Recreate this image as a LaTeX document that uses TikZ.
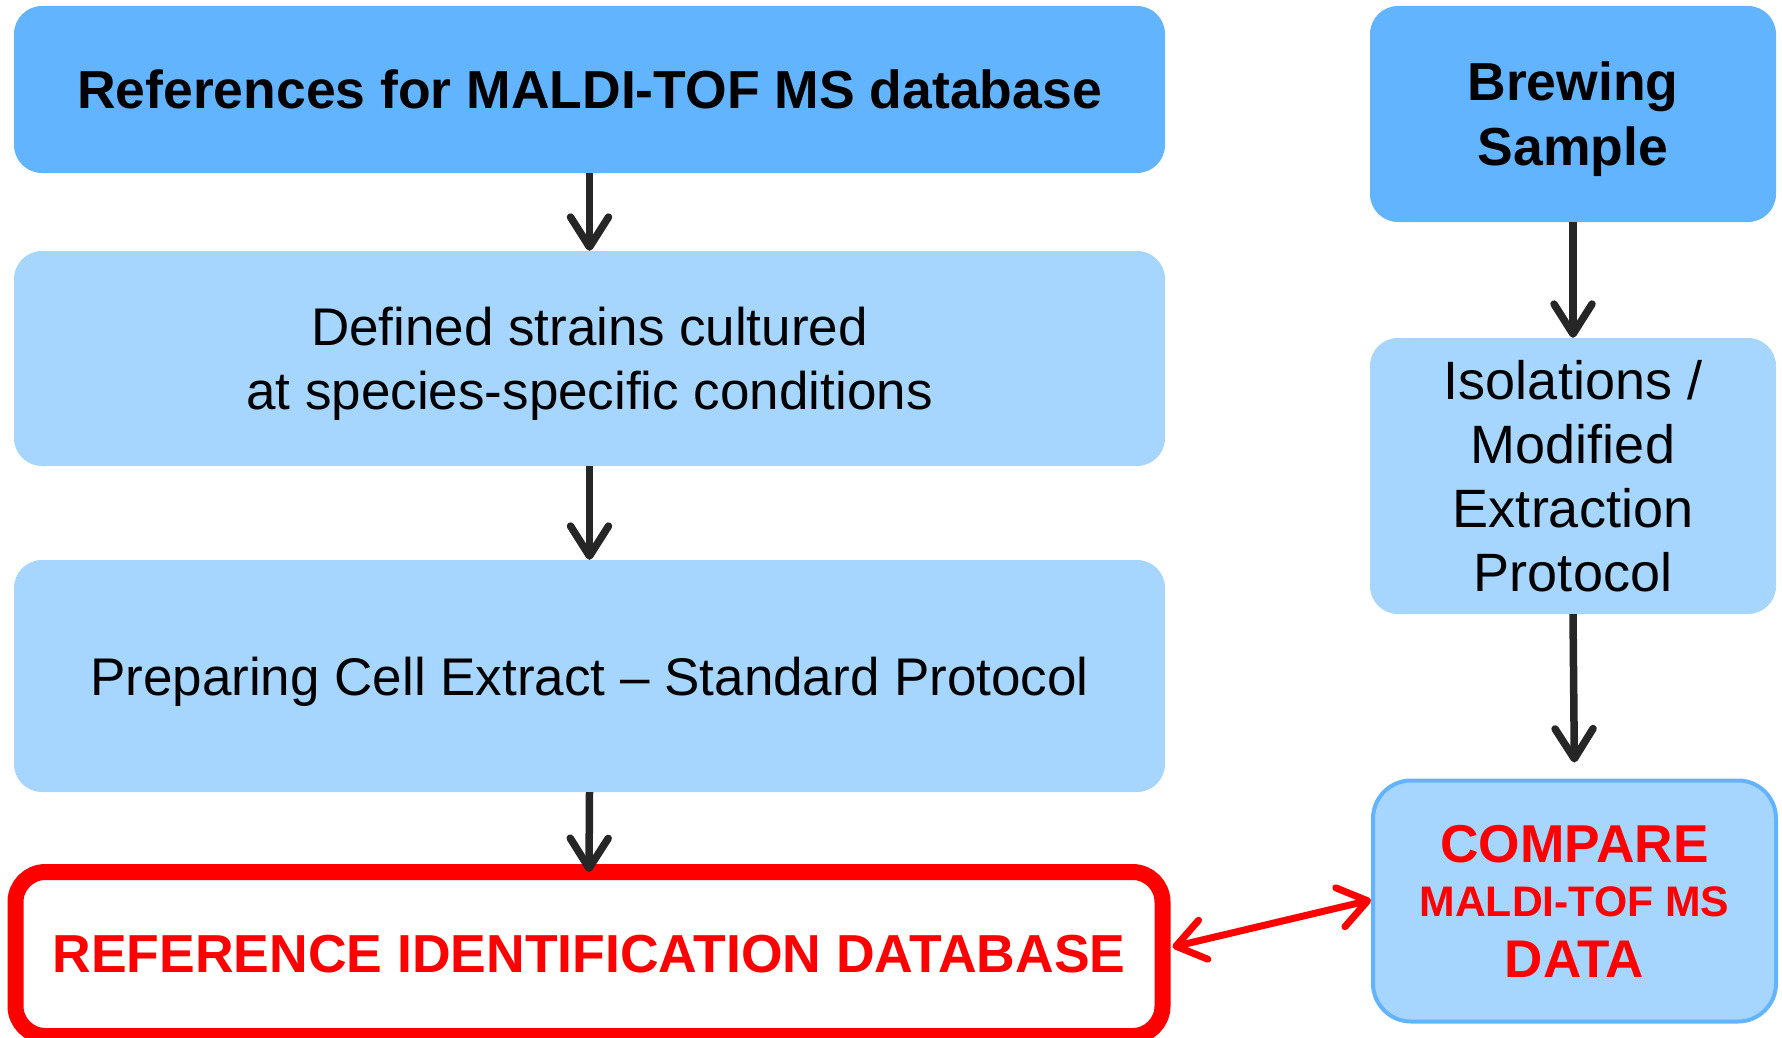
\documentclass[tikz,border=0pt]{standalone}
\usepackage{fontspec}
\setmainfont{Liberation Sans}
\usetikzlibrary{arrows.meta}

\definecolor{darkblue}{RGB}{99,180,255}
\definecolor{lightblue}{RGB}{166,213,253}
\definecolor{arrowgray}{RGB}{38,38,38}
\definecolor{alertred}{RGB}{255,0,0}

\begin{document}
\begin{tikzpicture}[x=1pt,y=-1pt,
    topbox/.style={rounded corners=28pt,fill=darkblue,draw=none,align=center,
        text depth=0pt,font=\fontsize{53.5}{65}\selectfont\bfseries},
    stepbox/.style={rounded corners=28pt,fill=lightblue,draw=none,align=center,
        text depth=0pt,font=\fontsize{53}{64}\selectfont},
    flow/.style={draw=arrowgray,line width=7.5pt,
        -{Straight Barb[length=30pt,width=38pt,round]}},
    link/.style={draw=alertred,line width=7pt,
        {Straight Barb[length=28pt,width=40pt,round]}-{Straight Barb[length=28pt,width=40pt,round]}}]
    \useasboundingbox (0,0) rectangle (1782,1038);

    % left column
    \node[topbox,minimum width=1151pt,minimum height=167pt] (refs) at (589.5,89.5)
        {References for MALDI-TOF MS database};
    \node[stepbox,minimum width=1151pt,minimum height=215pt] (strains) at (589.5,358.5)
        {Defined strains cultured\\at species-specific conditions};
    \node[stepbox,minimum width=1151pt,minimum height=232pt] (extract) at (589.5,676)
        {Preparing Cell Extract -- Standard Protocol};
    \node[rounded corners=30pt,draw=alertred,line width=16pt,fill=white,
        minimum width=1147pt,minimum height=164pt,text depth=0pt,
        font=\fontsize{53.5}{58}\selectfont\bfseries,text=alertred] (refdb) at (589,954)
        {REFERENCE IDENTIFICATION DATABASE};

    % right column
    \node[topbox,minimum width=406pt,minimum height=216pt] (brew) at (1573,114)
        {Brewing\\Sample};
    \node[stepbox,minimum width=406pt,minimum height=276pt,
        font=\fontsize{54}{64}\selectfont] (iso) at (1573,476)
        {Isolations /\\Modified\\Extraction\\Protocol};
    \node[rounded corners=38pt,fill=lightblue,draw=darkblue,line width=4pt,
        minimum width=403pt,minimum height=241pt,align=center,
        font=\fontsize{53}{58}\selectfont\bfseries,text=alertred] (compare) at (1574.5,901)
        {{\fontsize{53.3}{58}\selectfont COMPARE}\\[-4pt]
         {\fontsize{42.7}{50}\selectfont MALDI-TOF MS}\\[3pt]
         DATA};

    \draw[flow] (refs.south) -- (strains.north);
    \draw[flow] (strains.south) -- (extract.north);
    \draw[flow] (extract.south) -- ([yshift=-8pt]refdb.north);
    \draw[flow] (brew.south) -- (iso.north);
    \draw[flow,shorten >=16pt] (iso.south) -- (compare.north);
    \draw[link] ([xshift=2pt,yshift=7pt]refdb.east) coordinate (dbtip)
        -- ([yshift=1pt]compare.west);
\end{tikzpicture}
\end{document}
